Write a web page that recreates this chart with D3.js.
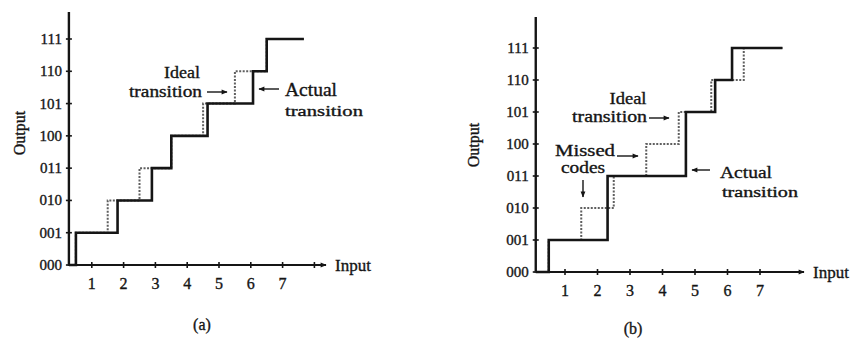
<!DOCTYPE html>
<html>
<head>
<meta charset="utf-8">
<script src="https://cdn.jsdelivr.net/npm/d3@7"></script>
<style>
  body { margin: 0; background: #fff; }
  svg { display: block; font-family: "Liberation Serif", "DejaVu Serif", serif; }
</style>
</head>
<body>
<svg id="canvas"></svg>
<script>
//--chart data
const codes = ["000", "001", "010", "011", "100", "101", "110", "111"];
const inputTicks = [1, 2, 3, 4, 5, 6, 7];
const tickMarksA = [1, 2, 3, 4, 5, 6, 7, 8];
const tickMarksB = [1, 2, 3, 4, 5, 6, 7];
const idealSteps = [0.5, 1.5, 2.5, 3.5, 4.5, 5.5, 6.5];
const actualStepsA = [0.5, 1.81, 2.89, 3.5, 4.64, 6.07, 6.5];
const actualStepsB = [0.5, 2.31, 2.31, 4.72, 4.72, 5.62, 6.14];
const stepEndA = 7.67;
const stepEndB = 7.69;
//--

let width = 856;
let height = 338;
let ink = "#151515";

let canvas = d3.select("#canvas")
canvas.attr("width", width)
canvas.attr("height", height)

let defs = canvas.append("defs")
defs.append("marker")
    .attr("id", "arrow")
    .attr("viewBox", "0 0 10 10")
    .attr("refX", 9).attr("refY", 5)
    .attr("markerWidth", 7).attr("markerHeight", 6)
    .attr("markerUnits", "userSpaceOnUse")
    .attr("orient", "auto")
    .append("path")
    .attr("d", "M0,1 L10,5 L0,9 Z")
    .attr("fill", ink)

//--text helper; the scan's type is heavy, so a thin stroke thickens it
let label = (g, txt, x, y, size, anchor, len) => {
    let t = g.append("text")
        .attr("x", x).attr("y", y)
        .attr("font-size", size)
        .attr("text-anchor", anchor || "start")
        .attr("fill", ink)
        .attr("stroke", ink)
        .attr("stroke-width", 0.35)
        .text(txt)
    if (len) t.attr("textLength", len).attr("lengthAdjust", "spacingAndGlyphs")
    return t
}

let arrow = (g, x1, y1, x2, y2) => {
    g.append("line")
        .attr("x1", x1).attr("y1", y1).attr("x2", x2).attr("y2", y2)
        .attr("stroke", ink).attr("stroke-width", 1.4)
        .attr("marker-end", "url(#arrow)")
}

//--draws one panel: axes, ideal (dashed) and actual (solid) staircases
let drawPanel = (p) => {
    let g = canvas.append("g")

    let x = d3.scaleLinear().domain([0, 1]).range([p.x0, p.x0 + p.dx])
    let y = d3.scaleLinear().domain([0, 7]).range([p.y0, p.y7])

    let axisX = x(p.axisAt)

    //y axis
    g.append("line")
        .attr("x1", axisX).attr("x2", axisX)
        .attr("y1", p.top).attr("y2", p.y0 + 1)
        .attr("stroke", ink).attr("stroke-width", 2.4)

    //x axis with arrow
    g.append("line")
        .attr("x1", axisX).attr("x2", p.arrowEnd)
        .attr("y1", p.y0).attr("y2", p.y0)
        .attr("stroke", ink).attr("stroke-width", 2.2)
        .attr("marker-end", "url(#arrow)")

    //y ticks + labels
    g.selectAll(".ytick")
        .data(codes)
        .enter()
        .append("line")
        .attr("x1", axisX - 3).attr("x2", axisX + 3)
        .attr("y1", (d, i) => y(i)).attr("y2", (d, i) => y(i))
        .attr("stroke", ink).attr("stroke-width", 1.6)

    codes.forEach((d, i) => label(g, d, axisX - 7, y(i) + 5, p.fs, "end"))

    //x ticks + labels
    g.selectAll(".xtick")
        .data(p.marks)
        .enter()
        .append("line")
        .attr("x1", d => x(d)).attr("x2", d => x(d))
        .attr("y1", p.y0 - 3).attr("y2", p.y0 + 3)
        .attr("stroke", ink).attr("stroke-width", 1.6)

    inputTicks.forEach(d => label(g, d, x(d), p.y0 + 24, p.fs + 1, "middle"))

    label(g, "Input", p.arrowEnd + 9, p.y0 + 6, 17)

    g.append("text")
        .attr("transform", `translate(${p.outX},${p.outY}) rotate(-90)`)
        .attr("text-anchor", "middle")
        .attr("font-size", p.fs + 1)
        .attr("fill", ink)
        .attr("stroke", ink)
        .attr("stroke-width", 0.35)
        .text("Output")

    label(g, p.caption, p.capX, p.capY, 16, "middle")

    let line = d3.line()
        .x(d => x(d[0]))
        .y(d => y(d[1]))
        .curve(d3.curveStepAfter)

    let idealPts = [[p.axisAt, 0]].concat(idealSteps.map((s, i) => [s, i + 1]))
    idealPts.push([p.end, 7])
    let actualPts = [[p.axisAt, 0]].concat(p.actual.map((s, i) => [s, i + 1]))
    actualPts.push([p.end, 7])

    g.append("path")
        .attr("d", line(idealPts))
        .attr("fill", "none")
        .attr("stroke", "#5f5f5f")
        .attr("stroke-width", 2)
        .attr("stroke-dasharray", "2,1.5")

    g.append("path")
        .attr("d", line(actualPts))
        .attr("fill", "none")
        .attr("stroke", ink)
        .attr("stroke-width", 2.6)

    return g
}

//--panel (a)
let ga = drawPanel({
    x0: 60, dx: 31.8, axisAt: 0.28, y0: 265, y7: 39, top: 12,
    arrowEnd: 326, fs: 15, outX: 25, outY: 133, capX: 202, capY: 330,
    caption: "(a)", actual: actualStepsA, end: stepEndA, marks: tickMarksA
})
label(ga, "Ideal", 182, 78, 17, "middle", 36)
label(ga, "transition", 202, 97, 16, "end", 73)
arrow(ga, 207, 92, 227, 92)
arrow(ga, 279, 89, 259, 89)
label(ga, "Actual", 285, 96, 18, "start", 52)
label(ga, "transition", 285, 116, 15, "start", 78)

//--panel (b)
let gb = drawPanel({
    x0: 532.5, dx: 32.5, axisAt: 0.1, y0: 272, y7: 48, top: 17,
    arrowEnd: 804, fs: 15, outX: 479, outY: 145, capX: 633, capY: 334,
    caption: "(b)", actual: actualStepsB, end: stepEndB, marks: tickMarksB
})
label(gb, "Ideal", 628, 104, 17, "middle", 37)
label(gb, "transition", 647, 122, 16, "end", 75)
arrow(gb, 649, 118, 669, 118)
label(gb, "Missed", 555, 156, 17, "start", 60)
arrow(gb, 617, 156, 638, 156)
label(gb, "codes", 583, 173, 16, "middle", 44)
arrow(gb, 583, 180, 583, 197)
arrow(gb, 710, 170, 692, 170)
label(gb, "Actual", 720, 178, 17, "start", 52)
label(gb, "transition", 722, 197, 14, "start", 76)
</script>
</body>
</html>
